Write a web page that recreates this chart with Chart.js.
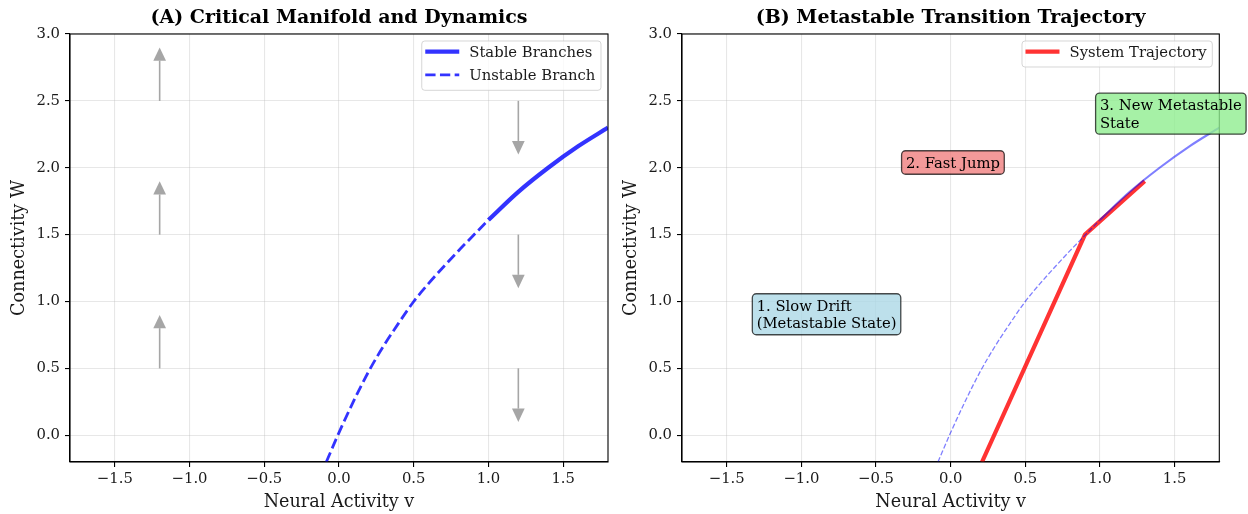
<!DOCTYPE html>
<html>
<head>
<meta charset="utf-8">
<script src="https://cdn.jsdelivr.net/npm/chart.js@4/dist/chart.umd.min.js"></script>
<style>
  html, body { margin: 0; padding: 0; background: #ffffff; }
  #a { position: absolute; left: 0; top: 0; }
  #b { position: absolute; left: 612px; top: 0; }
</style>
</head>
<body>
<canvas id="a" width="612" height="514"></canvas>
<canvas id="b" width="636" height="514"></canvas>
<script>
// ---------------- data ----------------
const xTickValues = [-1.5, -1.0, -0.5, 0.0, 0.5, 1.0, 1.5];
const xTickLabels = ['\u22121.5', '\u22121.0', '\u22120.5', '0.0', '0.5', '1.0', '1.5'];
const yTickValues = [0.0, 0.5, 1.0, 1.5, 2.0, 2.5, 3.0];
const yTickLabels = ['0.0', '0.5', '1.0', '1.5', '2.0', '2.5', '3.0'];

// critical manifold W(v)
const unstableV = [-0.085, 0.0, 0.1, 0.2, 0.3, 0.4, 0.5, 0.6, 0.7, 0.8, 0.9, 1.0];
const unstableW = [-0.2, 0.02, 0.26, 0.48, 0.67, 0.84, 1.0, 1.135, 1.26, 1.38, 1.495, 1.61];
const stableV = [1.0, 1.2, 1.4, 1.6, 1.8];
const stableW = [1.61, 1.82, 2.0, 2.16, 2.30];

// system trajectory (panel B)
const trajV = [0.21, 0.9, 1.3];
const trajW = [-0.2, 1.5, 1.9];

// flow arrows (panel A)
const arrowV = [-1.2, -1.2, -1.2, 1.2, 1.2, 1.2];
const arrowStartW = [0.5, 1.5, 2.5, 2.5, 1.5, 0.5];
const arrowDeltaW = [0.3, 0.3, 0.3, -0.3, -0.3, -0.3];

// annotations (panel B)
const noteText = [['1. Slow Drift', '(Metastable State)'], ['2. Fast Jump'], ['3. New Metastable', 'State']];
const noteV = [-1.3, -0.3, 1.0];
const noteW = [0.8, 2.0, 2.3];
const noteFill = ['rgba(173,216,230,0.8)', 'rgba(240,128,128,0.8)', 'rgba(144,238,144,0.8)'];

const titles = ['(A) Critical Manifold and Dynamics', '(B) Metastable Transition Trajectory'];
const legendA = ['Stable Branches', 'Unstable Branch'];
const legendB = ['System Trajectory'];

// ---------------- styling helpers ----------------
const FAMILY = "'DejaVu Serif', serif";
const FS = 14.8;
const pts = (xs, ys) => xs.map((x, i) => ({ x: x, y: ys[i] }));

function makeScales(yAxisWidth) {
  return {
    x: {
      type: 'linear', min: -1.8, max: 1.8,
      afterBuildTicks: s => { s.ticks = xTickValues.map(v => ({ value: v })); },
      afterFit: s => { s.height = 52; },
      ticks: { autoSkip: false, maxRotation: 0, padding: 3.5, color: '#1a1a1a',
               font: { family: FAMILY, size: FS },
               callback: (v, i) => xTickLabels[i] },
      grid: { color: 'rgba(176,176,176,0.3)', lineWidth: 1.1, tickColor: '#000', tickLength: 5, tickWidth: 1.1 },
      border: { color: '#000', width: 1.1 },
      title: { display: true, text: 'Neural Activity v', color: '#1a1a1a',
               font: { family: FAMILY, size: 17.6 }, padding: { top: 0, bottom: 1.5 } }
    },
    y: {
      type: 'linear', min: -0.2, max: 3.0,
      afterBuildTicks: s => { s.ticks = yTickValues.map(v => ({ value: v })); },
      afterFit: s => { s.width = yAxisWidth; },
      ticks: { autoSkip: false, padding: 5, color: '#1a1a1a',
               font: { family: FAMILY, size: FS },
               callback: (v, i) => yTickLabels[i] },
      grid: { color: 'rgba(176,176,176,0.3)', lineWidth: 1.1, tickColor: '#000', tickLength: 5, tickWidth: 1.1 },
      border: { color: '#000', width: 1.1 },
      title: { display: true, text: 'Connectivity W', color: '#1a1a1a',
               font: { family: FAMILY, size: 17.6 }, padding: { top: 9, bottom: 0 } }
    }
  };
}

const spinePlugin = {
  id: 'spines',
  afterDatasetsDraw(chart) {
    const c = chart.ctx, a = chart.chartArea;
    c.save();
    c.strokeStyle = '#000'; c.lineWidth = 1.1;
    c.strokeRect(a.left, a.top, a.right - a.left, a.bottom - a.top);
    c.restore();
  }
};

function legendPlugin(labels) {
  return {
    id: 'mplLegend',
    afterDraw(chart) {
      const c = chart.ctx, a = chart.chartArea;
      const items = labels.map(l => chart.data.datasets.find(d => d.label === l));
      c.save();
      c.font = FS + 'px ' + FAMILY;
      const tw = Math.max(...labels.map(l => c.measureText(l).width));
      const right = a.right - 7, top = a.top + 7;
      const textX = right - 5.6 - tw;
      const hEnd = textX - 10, hStart = hEnd - 34, left = hStart - 3.5;
      const h = 26 + 23.3 * (items.length - 1);
      c.beginPath();
      c.roundRect(left, top, right - left, h, 3);
      c.fillStyle = 'rgba(255,255,255,0.8)'; c.fill();
      c.strokeStyle = 'rgba(204,204,204,0.8)'; c.lineWidth = 1; c.stroke();
      items.forEach((d, i) => {
        const y = top + 10.6 + i * 23.3;
        c.beginPath();
        c.setLineDash(d.borderDash || []);
        c.strokeStyle = d.borderColor; c.lineWidth = d.borderWidth;
        c.moveTo(hStart, y); c.lineTo(hEnd, y); c.stroke();
        c.setLineDash([]);
        c.fillStyle = '#1a1a1a'; c.textBaseline = 'middle'; c.textAlign = 'left';
        c.fillText(d.label, textX, y + 1.5);
      });
      c.restore();
    }
  };
}

const arrowPlugin = {
  id: 'flowArrows',
  beforeDatasetsDraw(chart) {
    const c = chart.ctx, xs = chart.scales.x, ys = chart.scales.y;
    const headW = 0.085, headL = 0.1;
    c.save();
    c.fillStyle = 'rgba(128,128,128,0.7)'; c.strokeStyle = 'rgba(128,128,128,0.7)';
    arrowV.forEach((v, i) => {
      const s = arrowStartW[i], e = s + arrowDeltaW[i], tip = e + Math.sign(arrowDeltaW[i]) * headL;
      const px = xs.getPixelForValue(v);
      const hw = (xs.getPixelForValue(v + headW / 2) - xs.getPixelForValue(v - headW / 2)) / 2;
      c.lineWidth = 1.6;
      c.beginPath(); c.moveTo(px, ys.getPixelForValue(s)); c.lineTo(px, ys.getPixelForValue(e)); c.stroke();
      c.beginPath();
      c.moveTo(px - hw, ys.getPixelForValue(e));
      c.lineTo(px + hw, ys.getPixelForValue(e));
      c.lineTo(px, ys.getPixelForValue(tip));
      c.closePath(); c.fill();
    });
    c.restore();
  }
};

const notePlugin = {
  id: 'notes',
  afterDraw(chart) {
    const c = chart.ctx, xs = chart.scales.x, ys = chart.scales.y;
    c.save();
    c.font = FS + 'px ' + FAMILY;
    noteText.forEach((lines, i) => {
      const x = xs.getPixelForValue(noteV[i]);
      const lastBase = ys.getPixelForValue(noteW[i]);
      const lh = 17.5;
      const firstBase = lastBase - lh * (lines.length - 1);
      const w = Math.max(...lines.map(l => c.measureText(l).width));
      const pad = 4.3;
      const top = firstBase - 17, bottom = lastBase + 6.5;
      c.beginPath();
      c.roundRect(x - pad, top, w + 2 * pad, bottom - top, 4);
      c.fillStyle = noteFill[i]; c.fill();
      c.strokeStyle = 'rgba(0,0,0,0.7)'; c.lineWidth = 1.3; c.stroke();
      c.fillStyle = '#000'; c.textBaseline = 'alphabetic'; c.textAlign = 'left';
      lines.forEach((l, j) => c.fillText(l, x, firstBase + j * lh));
    });
    c.restore();
  }
};

function baseOptions(title, yAxisWidth, padRight) {
  return {
    responsive: false, animation: false, devicePixelRatio: 1,
    layout: { padding: { left: 0, right: padRight, top: 0, bottom: 0 } },
    plugins: {
      legend: { display: false }, tooltip: { enabled: false },
      title: { display: true, text: title, fullSize: false, color: '#000',
               font: { family: FAMILY, size: 19, weight: 'bold' }, padding: { top: 6.6, bottom: 4.6 } }
    },
    elements: { point: { radius: 0 } },
    scales: makeScales(yAxisWidth)
  };
}

// ---------------- panel A ----------------
new Chart(document.getElementById('a'), {
  type: 'line',
  data: {
    datasets: [
      { label: legendA[1], data: pts(unstableV, unstableW), borderColor: 'rgba(0,0,255,0.8)',
        borderWidth: 2.8, borderDash: [10.3, 4.4], cubicInterpolationMode: 'monotone', clip: 0, fill: false },
      { label: legendA[0], data: pts(stableV, stableW), borderColor: 'rgba(0,0,255,0.8)',
        borderWidth: 4.2, cubicInterpolationMode: 'monotone', clip: 0, fill: false }
    ]
  },
  options: baseOptions(titles[0], 70, 4),
  plugins: [arrowPlugin, spinePlugin, legendPlugin(legendA)]
});

// ---------------- panel B ----------------
new Chart(document.getElementById('b'), {
  type: 'line',
  data: {
    datasets: [
      { label: 'manifold-unstable', data: pts(unstableV, unstableW), borderColor: 'rgba(0,0,255,0.5)',
        borderWidth: 1.3, borderDash: [5.1, 2.2], cubicInterpolationMode: 'monotone', clip: 0, fill: false },
      { label: 'manifold-stable', data: pts(stableV, stableW), borderColor: 'rgba(0,0,255,0.5)',
        borderWidth: 2.1, cubicInterpolationMode: 'monotone', clip: 0, fill: false },
      { label: legendB[0], data: pts(trajV, trajW), borderColor: 'rgba(255,0,0,0.8)',
        borderWidth: 4.2, tension: 0, clip: 0, fill: false }
    ]
  },
  options: baseOptions(titles[1], 70, 28.7),
  plugins: [spinePlugin, legendPlugin(legendB), notePlugin]
});
</script>
</body>
</html>
